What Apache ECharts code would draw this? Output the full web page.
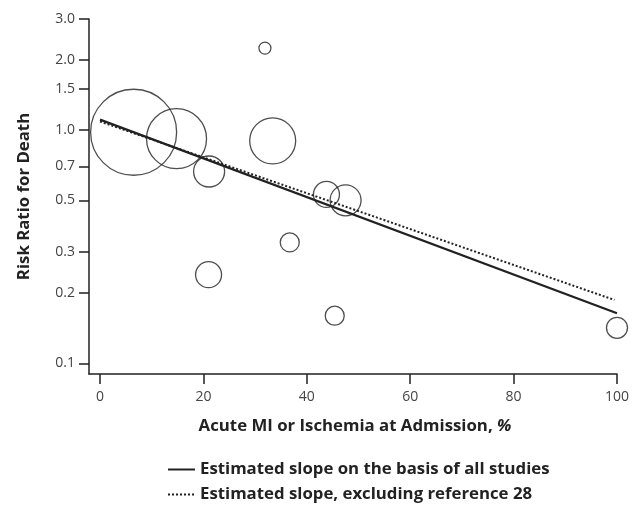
<!DOCTYPE html>
<html>
<head>
<meta charset="utf-8">
<script src="https://cdn.jsdelivr.net/npm/echarts@6/dist/echarts.min.js"></script>
<style>html,body{margin:0;padding:0;background:#fff;}#c{width:641px;height:505px;}</style>
</head>
<body>
<div id="c"></div>
<script>
const xTicks = [0, 20, 40, 60, 80, 100];
const yTicks = [0.1, 0.2, 0.3, 0.5, 0.7, 1.0, 1.5, 2.0, 3.0];
const yTickLabels = ['0.1', '0.2', '0.3', '0.5', '0.7', '1.0', '1.5', '2.0', '3.0'];

const studyPct    = [6.5, 14.8, 21.1, 33.4, 43.8, 47.5, 36.7, 21.0, 45.4, 31.9, 100];
const studyRR     = [0.98, 0.92, 0.665, 0.90, 0.53, 0.50, 0.33, 0.24, 0.16, 2.25, 0.142];
const studyWeight = [86, 60, 31, 46, 26, 31, 19, 26, 19, 12, 21];

const slopeAllX  = [0, 100];
const slopeAllRR = [1.11, 0.164];
const slopeExclX  = [0, 99.5];
const slopeExclRR = [1.09, 0.187];

const nameAll = 'Estimated slope on the basis of all studies';
const nameExcl = 'Estimated slope, excluding reference 28';
const xTitle = 'Acute MI or Ischemia at Admission, ';
const xTitleUnit = '%';
const yTitle = 'Risk Ratio for Death';

const L = Math.log10;
const yCustom = yTicks.map(L);

const chart = echarts.init(document.getElementById('c'), null, {renderer: 'canvas'});
const FONT = '"Open Sans", sans-serif';
const BOLD = 16.8;
function legendFor(name, top) {
  return {
    data: [name],
    orient: 'horizontal',
    left: 167, top: top, padding: 0,
    itemWidth: 27, itemHeight: 14,
    itemStyle: {opacity: 0},
    textStyle: {fontFamily: FONT, fontWeight: 'bold', fontSize: BOLD, color: '#222'},
    selectedMode: false
  };
}
chart.setOption({
  animation: false,
  backgroundColor: '#fff',
  grid: {left: 89, right: 24, top: 19, bottom: 131},
  legend: [legendFor(nameAll, 461), legendFor(nameExcl, 486)],
  graphic: [{
    type: 'text',
    x: 355, y: 426,
    style: {
      text: '{b|' + xTitle + '}{i|' + xTitleUnit + '}',
      align: 'center', verticalAlign: 'middle',
      rich: {
        b: {fontFamily: FONT, fontWeight: 'bold', fontSize: BOLD, fill: '#222'},
        i: {fontFamily: FONT, fontWeight: 'bold', fontStyle: 'italic', fontSize: BOLD, fill: '#222'}
      }
    }
  }],
  xAxis: {
    type: 'value',
    min: -2.13, max: 100,
    axisLine: {onZero: false, lineStyle: {color: '#222', width: 1.5}},
    axisTick: {show: true, length: 10, inside: false, lineStyle: {color: '#222', width: 1.5}, customValues: xTicks},
    axisLabel: {customValues: xTicks, margin: 16, fontFamily: FONT, fontSize: 14, color: '#444'},
    splitLine: {show: false}
  },
  yAxis: {
    type: 'value',
    min: -1.046, max: L(3),
    name: yTitle,
    nameLocation: 'middle',
    nameRotate: 90,
    nameGap: 56,
    nameTextStyle: {fontFamily: FONT, fontWeight: 'bold', fontSize: BOLD, color: '#222'},
    axisLine: {onZero: false, lineStyle: {color: '#222', width: 1.5}},
    axisTick: {show: true, length: 10, inside: false, lineStyle: {color: '#222', width: 1.5}, customValues: yCustom},
    axisLabel: {
      customValues: yCustom, margin: 14, fontFamily: FONT, fontSize: 14, color: '#444',
      formatter: function (v) {
        for (let i = 0; i < yCustom.length; i++) {
          if (Math.abs(yCustom[i] - v) < 1e-6) return yTickLabels[i];
        }
        return '';
      }
    },
    splitLine: {show: false}
  },
  series: [
    {
      type: 'scatter',
      name: 'studies',
      data: studyPct.map((x, i) => [x, L(studyRR[i]), studyWeight[i]]),
      symbol: 'circle',
      symbolSize: d => d[2],
      itemStyle: {color: 'rgba(0,0,0,0)', borderColor: '#222', borderWidth: 1.3},
      emphasis: {disabled: true},
      z: 2
    },
    {
      type: 'line',
      name: nameAll,
      data: slopeAllX.map((x, i) => [x, L(slopeAllRR[i])]),
      symbol: 'none',
      lineStyle: {color: '#222', width: 2.2, type: 'solid'},
      itemStyle: {color: '#222'},
      z: 3
    },
    {
      type: 'line',
      name: nameExcl,
      data: slopeExclX.map((x, i) => [x, L(slopeExclRR[i])]),
      symbol: 'none',
      lineStyle: {color: '#222', width: 2, type: [2, 2]},
      itemStyle: {color: '#222'},
      z: 3
    }
  ]
});
</script>
</body>
</html>
